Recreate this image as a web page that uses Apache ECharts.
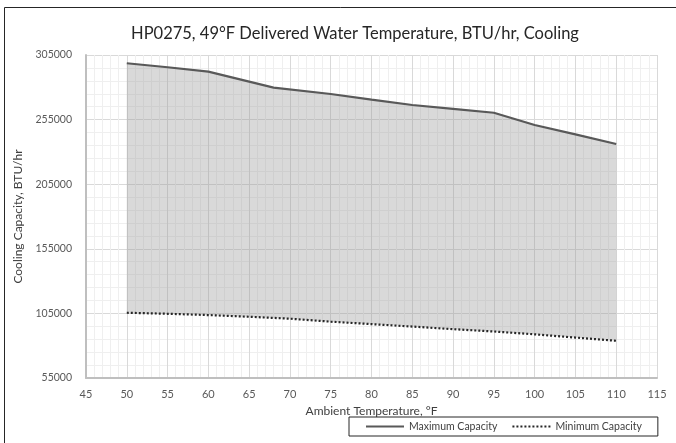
<!DOCTYPE html>
<html>
<head>
<meta charset="utf-8">
<script src="https://cdn.jsdelivr.net/npm/echarts@6/dist/echarts.min.js"></script>
<style>
html,body{margin:0;padding:0;background:#fff;}
#chart{width:676px;height:443px;}
</style>
</head>
<body>
<div id="chart"></div>
<script>
var maxTemps = [50, 55, 60, 68, 75, 80, 85, 90, 95, 100, 105, 110];
var maxCapacity = [298600, 295500, 292100, 279700, 274800, 270500, 266300, 263300, 260300, 250800, 243600, 236100];
var minTemps = [50, 55, 60, 65, 70, 75, 80, 85, 90, 95, 100, 105, 110];
var minCapacity = [105500, 104700, 103700, 102400, 100900, 98600, 96700, 94800, 92800, 91000, 88800, 86300, 83800];
var xTicks = [45, 115, 5];
var yTicks = [55000, 305000, 50000];

var maxPts = maxTemps.map(function (t, i) { return [t, maxCapacity[i]]; });
var minPts = minTemps.map(function (t, i) { return [t, minCapacity[i]]; });

var font = 'Lato, "Open Sans", sans-serif';
var chart = echarts.init(document.getElementById('chart'));
chart.setOption({
    animation: false,
    title: {
        text: 'HP0275, 49°F Delivered Water Temperature, BTU/hr, Cooling',
        left: 350,
        top: 20,
        textAlign: 'center',
        textStyle: {fontFamily: font, fontSize: 16.5, fontWeight: 'normal', color: '#262626'}
    },
    graphic: [{
        type: 'rect',
        shape: {x: 4.5, y: 7.5, width: 720, height: 480},
        style: {fill: null, stroke: '#262626', lineWidth: 1},
        silent: true
    }],
    legend: {
        left: 349,
        top: 417,
        width: 324,
        height: 19,
        padding: [4, 16, 4, 16],
        itemGap: 14,
        itemWidth: 38,
        itemHeight: 10,
        borderColor: '#262626',
        borderWidth: 1,
        borderRadius: 0,
        itemStyle: {opacity: 0},
        textStyle: {fontFamily: font, fontSize: 10.5, color: '#404040'},
        data: ['Maximum Capacity', 'Minimum Capacity']
    },
    grid: {left: 86, right: 19, top: 55, bottom: 65},
    xAxis: {
        type: 'value',
        min: xTicks[0], max: xTicks[1], interval: xTicks[2],
        name: 'Ambient Temperature, °F',
        nameLocation: 'middle',
        nameGap: 26,
        nameTextStyle: {fontFamily: font, fontSize: 12, color: '#404040'},
        axisLine: {show: true, lineStyle: {color: '#bfbfbf', width: 2}},
        axisTick: {show: false},
        axisLabel: {margin: 11, fontFamily: font, fontSize: 11, color: '#595959'},
        splitLine: {show: true, lineStyle: {color: '#d9d9d9', width: 1}},
        minorTick: {show: false, splitNumber: 5},
        minorSplitLine: {show: true, lineStyle: {color: '#efefef', width: 1}}
    },
    yAxis: {
        type: 'value',
        min: yTicks[0], max: yTicks[1], interval: yTicks[2],
        name: 'Cooling Capacity, BTU/hr',
        nameLocation: 'middle',
        nameGap: 47,
        nameTextStyle: {fontFamily: font, fontSize: 12, color: '#404040'},
        axisLine: {show: true, lineStyle: {color: '#bfbfbf', width: 2}},
        axisTick: {show: false},
        axisLabel: {
            margin: 14, fontFamily: font, fontSize: 10.5, color: '#595959',
            formatter: function (v) { return String(v); }
        },
        splitLine: {show: true, lineStyle: {color: '#d9d9d9', width: 1}},
        minorTick: {show: false, splitNumber: 5},
        minorSplitLine: {show: true, lineStyle: {color: '#efefef', width: 1}}
    },
    series: [
    {
        name: 'band',
        type: 'custom',
        silent: true,
        data: [0],
        renderItem: function (params, api) {
            var pts = [];
            maxPts.forEach(function (p) { pts.push(api.coord(p)); });
            for (var i = minPts.length - 1; i >= 0; i--) pts.push(api.coord(minPts[i]));
            return {
                type: 'polygon',
                shape: {points: pts},
                style: {fill: 'rgba(150,150,150,0.36)', stroke: null}
            };
        },
        z: 1
    },
    {
        name: 'Maximum Capacity',
        type: 'line',
        data: maxPts,
        symbol: 'none',
        lineStyle: {color: '#595959', width: 2.2},
        itemStyle: {color: '#595959'},
        z: 3
    },
    {
        name: 'Minimum Capacity',
        type: 'line',
        data: minPts,
        symbol: 'none',
        lineStyle: {color: '#262626', width: 2.2, type: [2, 2]},
        itemStyle: {color: '#262626'},
        z: 3
    }]
});
</script>
</body>
</html>
